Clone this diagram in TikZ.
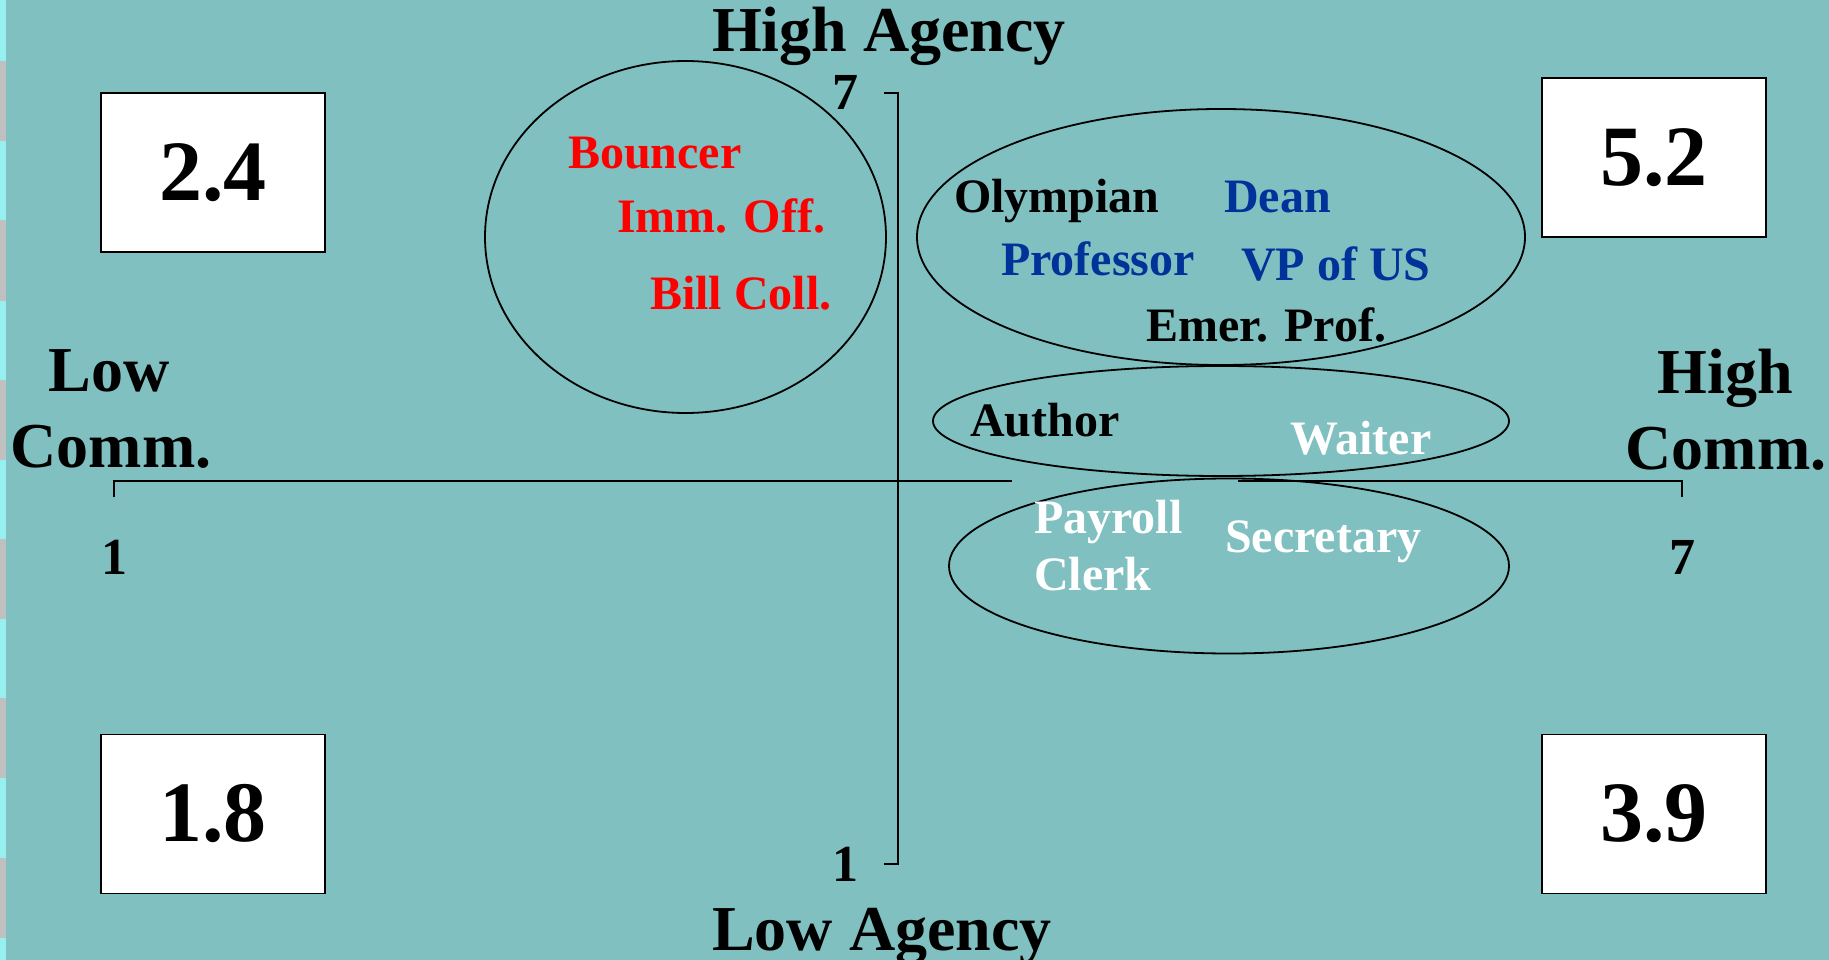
\documentclass[tikz,border=0pt]{standalone}
\usepackage{fontspec}
\setmainfont{Liberation Serif}
\usetikzlibrary{shapes.geometric}
\definecolor{bg}{RGB}{128,192,192}
\definecolor{navy}{RGB}{0,51,153}
\definecolor{stripegray}{RGB}{192,192,192}
\definecolor{stripecyan}{RGB}{150,240,240}
\begin{document}
\begin{tikzpicture}[x=1pt,y=-1pt,
  lbl/.style={anchor=base west, inner sep=0pt, font=\fontsize{48}{56}\selectfont\bfseries},
  tick/.style={anchor=base, inner sep=0pt, font=\fontsize{52}{60}\selectfont\bfseries},
  axlbl/.style={anchor=base, inner sep=0pt, font=\fontsize{64}{76}\selectfont\bfseries},
  scorebox/.style={draw=black, line width=1.5pt, fill=white, minimum width=224pt,
    minimum height=159pt, inner sep=0pt, font=\fontsize{86}{90}\selectfont\bfseries},
  grp/.style={draw=black, line width=1.8pt, ellipse, inner sep=0pt},
  axisline/.style={line width=2pt}]

% canvas
\useasboundingbox (0,0) rectangle (1829,960);
\fill[bg] (0,0) rectangle (1829,960);
\fill[stripecyan] (0,0) rectangle (6,960);
\foreach \y in {61,220.5,380,539,698,857.5}
  \fill[stripegray] (0,\y) rectangle (6,\y+80);

% axes
\coordinate (vtop) at (898,93);
\coordinate (vbot) at (898,864);
\coordinate (vtoptick) at (884,93);
\coordinate (vbottick) at (884,864);
\coordinate (hleft) at (114,481);
\coordinate (hright) at (1682,481);
\coordinate (hgapl) at (1012,481);
\coordinate (hgapr) at (1238,481);
\coordinate (hlefttick) at (114,497);
\coordinate (hrighttick) at (1682,497);
\draw[axisline] (vtoptick) -- (vtop) -- (vbot) -- (vbottick);
\draw[axisline] (hlefttick) -- (hleft) -- (hgapl);
\draw[axisline] (hgapr) -- (hright) -- (hrighttick);

% axis titles and scale ends
\node[axlbl] (hiag) at (889,52) {High Agency};
\node[axlbl] (loag) at (882,950) {Low Agency};
\node[axlbl] (locA) at (109,391) {Low};
\node[axlbl] (locB) at (111,467) {Comm.};
\node[axlbl] (hicA) at (1725,393) {High};
\node[axlbl] (hicB) at (1726,469) {Comm.};
\node[tick] (ag7) at (845,110) {7};
\node[tick] (ag1) at (845,881) {1};
\node[tick] (cm1) at (114,574) {1};
\node[tick] (cm7) at (1682,574) {7};

% quadrant scores
\node[scorebox] (q24) at (213,172.5) {2.4};
\node[scorebox] (q52) at (1654,157.5) {5.2};
\node[scorebox] (q18) at (213,814) {1.8};
\node[scorebox] (q39) at (1654,814) {3.9};

% occupation clusters
\node[grp, minimum width=401pt, minimum height=352pt] (cold) at (685.5,237) {};
\node[grp, minimum width=608pt, minimum height=256pt] (elite) at (1221,237) {};
\node[grp, minimum width=576pt, minimum height=110pt] (mid) at (1221,421) {};
\node[grp, minimum width=560pt, minimum height=175pt] (warm) at (1229,566) {};

% occupations
\node[lbl, text=red] (bouncer) at (568,169) {Bouncer};
\node[lbl, text=red] (imm) at (617,233) {Imm. Off.};
\node[lbl, text=red] (bill) at (650,309) {Bill Coll.};
\node[lbl] (olymp) at (954,213) {Olympian};
\node[lbl, text=navy] (dean) at (1224,213) {Dean};
\node[lbl, text=navy] (prof) at (1001,276) {Professor};
\node[lbl, text=navy] (vp) at (1241,280) {VP of US};
\node[lbl] (emer) at (1146,341) {Emer. Prof.};
\node[lbl] (author) at (970,436) {Author};
\node[lbl, text=white] (waiter) at (1290,454) {Waiter};
\node[lbl, text=white] (payroll) at (1034,533) {Payroll};
\node[lbl, text=white] (clerk) at (1034,590) {Clerk};
\node[lbl, text=white] (secr) at (1225,552) {Secretary};
\end{tikzpicture}
\end{document}
